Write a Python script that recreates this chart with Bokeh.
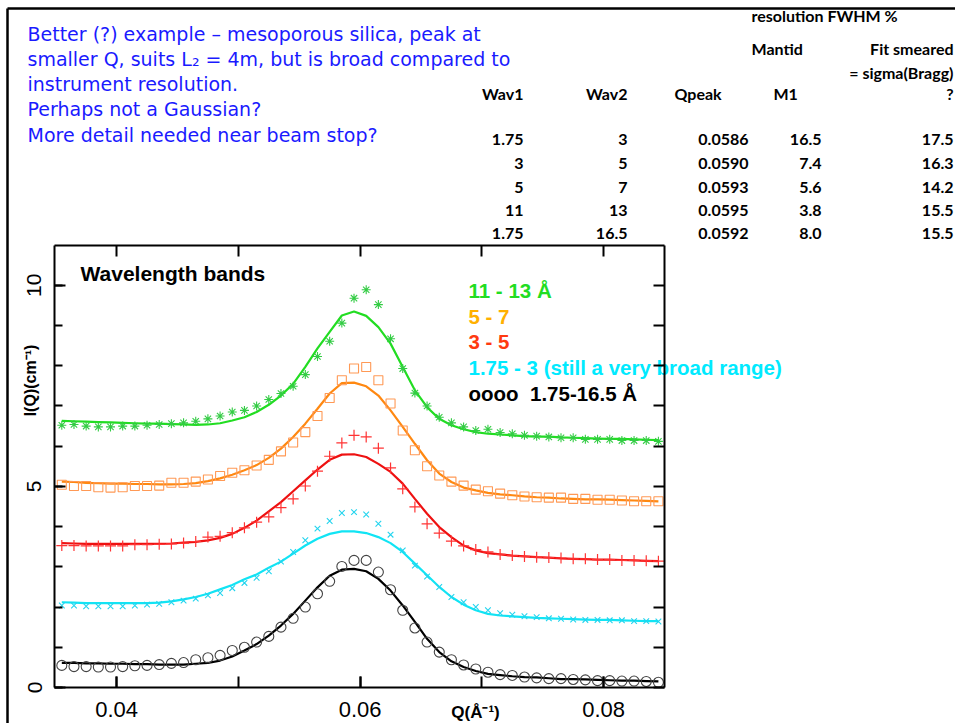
import math
from bokeh.plotting import figure
from bokeh.layouts import column, row
from bokeh.models import (Range1d, LinearAxis, FixedTicker, ColumnDataSource,
                          CustomJSTickFormatter)
from bokeh.embed import file_html
from bokeh.resources import INLINE
from bokeh.core.properties import value

# ---- scattering vector grid (1/Angstrom) ----
q = [0.0355, 0.0365, 0.0375, 0.0385, 0.0395, 0.0405, 0.0415, 0.0425, 0.0435, 0.0445,
     0.0455, 0.0465, 0.0475, 0.0485, 0.0495, 0.0505, 0.0515, 0.0525, 0.0535, 0.0545,
     0.0555, 0.0565, 0.0575, 0.0585, 0.0595, 0.0605, 0.0615, 0.0625, 0.0635, 0.0645,
     0.0655, 0.0665, 0.0675, 0.0685, 0.0695, 0.0705, 0.0715, 0.0725, 0.0735, 0.0745,
     0.0755, 0.0765, 0.0775, 0.0785, 0.0795, 0.0805, 0.0815, 0.0825, 0.0835, 0.0845]

# ---- measured I(Q) for each wavelength band (cm^-1) ----
i_full = [0.55, 0.52, 0.52, 0.51, 0.51, 0.52, 0.54, 0.55, 0.57, 0.60,
          0.62, 0.69, 0.74, 0.80, 0.92, 1.00, 1.13, 1.27, 1.50, 1.72,
          2.00, 2.33, 2.64, 3.01, 3.16, 3.16, 2.87, 2.43, 1.92, 1.48,
          1.13, 0.88, 0.69, 0.56, 0.46, 0.38, 0.32, 0.30, 0.26, 0.24,
          0.22, 0.22, 0.20, 0.19, 0.17, 0.17, 0.16, 0.16, 0.15, 0.13]
i_175_3 = [2.04, 2.04, 2.02, 2.02, 2.02, 2.02, 2.04, 2.06, 2.08, 2.12,
           2.16, 2.21, 2.29, 2.35, 2.47, 2.60, 2.73, 2.89, 3.13, 3.37,
           3.66, 3.95, 4.14, 4.34, 4.36, 4.30, 4.07, 3.80, 3.41, 3.03,
           2.76, 2.50, 2.25, 2.12, 2.00, 1.92, 1.85, 1.81, 1.77, 1.75,
           1.72, 1.71, 1.69, 1.68, 1.68, 1.67, 1.67, 1.65, 1.65, 1.64]
i_3_5 = [3.53, 3.53, 3.52, 3.52, 3.52, 3.52, 3.55, 3.55, 3.56, 3.57,
         3.59, 3.63, 3.74, 3.76, 3.85, 3.97, 4.11, 4.24, 4.47, 4.69,
         5.01, 5.38, 5.75, 6.08, 6.27, 6.23, 5.95, 5.46, 4.94, 4.49,
         4.07, 3.84, 3.64, 3.52, 3.43, 3.37, 3.31, 3.28, 3.26, 3.24,
         3.23, 3.22, 3.20, 3.20, 3.18, 3.18, 3.16, 3.16, 3.15, 3.14]
i_5_7 = [5.04, 5.01, 5.01, 4.98, 4.97, 4.98, 5.01, 5.01, 5.02, 5.09,
         5.09, 5.12, 5.17, 5.26, 5.34, 5.40, 5.52, 5.66, 5.87, 6.09,
         6.35, 6.75, 7.20, 7.64, 7.93, 7.97, 7.64, 7.06, 6.39, 5.90,
         5.50, 5.27, 5.12, 5.02, 4.92, 4.88, 4.82, 4.78, 4.75, 4.73,
         4.72, 4.72, 4.69, 4.69, 4.67, 4.67, 4.65, 4.63, 4.63, 4.63]
i_11_13 = [6.52, 6.54, 6.50, 6.48, 6.48, 6.50, 6.50, 6.52, 6.54, 6.56,
           6.58, 6.62, 6.68, 6.75, 6.85, 6.89, 7.00, 7.16, 7.31, 7.49,
           7.78, 8.23, 8.61, 9.06, 9.68, 9.89, 9.52, 8.67, 7.93, 7.32,
           7.00, 6.72, 6.58, 6.48, 6.39, 6.42, 6.34, 6.31, 6.27, 6.25,
           6.23, 6.21, 6.21, 6.17, 6.17, 6.17, 6.14, 6.14, 6.14, 6.12]

# ---- resolution-smeared model fits on the same grid ----
fit_full = [0.61, 0.61, 0.60, 0.60, 0.59, 0.59, 0.58, 0.58, 0.57, 0.57,
            0.57, 0.59, 0.61, 0.67, 0.77, 0.92, 1.08, 1.29, 1.54, 1.83,
            2.16, 2.49, 2.78, 2.93, 2.95, 2.89, 2.70, 2.41, 2.04, 1.63,
            1.21, 0.88, 0.65, 0.51, 0.41, 0.34, 0.31, 0.28, 0.26, 0.25,
            0.23, 0.21, 0.21, 0.20, 0.19, 0.18, 0.17, 0.17, 0.16, 0.15]
fit_175_3 = [2.12, 2.11, 2.10, 2.10, 2.10, 2.10, 2.10, 2.10, 2.11, 2.14,
             2.19, 2.25, 2.33, 2.44, 2.55, 2.69, 2.81, 2.98, 3.13, 3.33,
             3.53, 3.70, 3.82, 3.88, 3.88, 3.84, 3.74, 3.59, 3.37, 3.08,
             2.79, 2.50, 2.25, 2.06, 1.92, 1.83, 1.79, 1.77, 1.75, 1.73,
             1.72, 1.71, 1.70, 1.69, 1.68, 1.68, 1.67, 1.66, 1.65, 1.65]
fit_3_5 = [3.59, 3.58, 3.57, 3.57, 3.57, 3.57, 3.57, 3.57, 3.57, 3.58,
           3.60, 3.62, 3.66, 3.72, 3.82, 3.97, 4.15, 4.38, 4.61, 4.88,
           5.15, 5.42, 5.66, 5.79, 5.80, 5.73, 5.56, 5.36, 5.07, 4.69,
           4.32, 3.99, 3.74, 3.53, 3.41, 3.34, 3.31, 3.28, 3.26, 3.24,
           3.23, 3.21, 3.20, 3.19, 3.18, 3.18, 3.17, 3.16, 3.15, 3.14]
fit_5_7 = [5.12, 5.11, 5.09, 5.08, 5.07, 5.07, 5.06, 5.06, 5.05, 5.05,
           5.06, 5.08, 5.13, 5.20, 5.29, 5.40, 5.53, 5.71, 5.94, 6.23,
           6.56, 6.93, 7.31, 7.57, 7.58, 7.49, 7.26, 6.89, 6.48, 6.06,
           5.65, 5.32, 5.11, 4.97, 4.90, 4.84, 4.80, 4.78, 4.75, 4.73,
           4.72, 4.70, 4.69, 4.68, 4.68, 4.67, 4.66, 4.65, 4.64, 4.63]
fit_11_13 = [6.63, 6.62, 6.61, 6.60, 6.59, 6.58, 6.57, 6.56, 6.56, 6.55,
             6.54, 6.53, 6.54, 6.57, 6.64, 6.72, 6.85, 7.03, 7.26, 7.55,
             7.97, 8.43, 8.84, 9.25, 9.35, 9.24, 8.96, 8.55, 7.97, 7.39,
             6.97, 6.68, 6.52, 6.42, 6.35, 6.31, 6.29, 6.27, 6.25, 6.24,
             6.24, 6.22, 6.21, 6.20, 6.19, 6.18, 6.18, 6.17, 6.16, 6.15]

# ---- band key text ----
band_labels = ["11 - 13 \u00c5", "5 - 7", "3 - 5",
               "1.75 - 3 (still a very broad range)",
               "oooo \u00a01.75-16.5 \u00c5"]
band_colors = ["#22dd22", "#ffb000", "#ff3a10", "#00eaff", "black"]

# ---- table of peak positions and resolution widths ----
wav1 = [1.75, 3, 5, 11, 1.75]
wav2 = [3, 5, 7, 13, 16.5]
qpeak = [0.0586, 0.0590, 0.0593, 0.0595, 0.0592]
m1 = [16.5, 7.4, 5.6, 3.8, 8.0]
fit_smeared = [17.5, 16.3, 14.2, 15.5, 15.5]

notes = ["Better (?) example \u2013 mesoporous silica, peak at",
         "smaller Q, suits L\u2082 = 4m, but is broad compared to",
         "instrument resolution.",
         "Perhaps not a Gaussian?",
         "More detail needed near beam stop?"]

W, H = 955, 723
FL, FR, FT, FB = 54, 664, 245, 687   # plot frame edges in page pixels
ARIAL = "Liberation Sans"
CAL = "Lato"

# =====================================================================
# Page layer: slide text, table, key and axis titles (page pixel coords)
# =====================================================================
page = figure(width=W, height=H, output_backend="svg", toolbar_location=None,
              x_range=Range1d(0, W), y_range=Range1d(H, 0),
              min_border=0, x_axis_location=None, y_axis_location=None)
page.grid.visible = False
page.outline_line_color = None
page.background_fill_color = "white"
page.border_fill_color = "white"

# slide rules along the top and left edge
page.segment(x0=[7, 7], y0=[8, 8], x1=[W, 7], y1=[8, H],
             line_color="black", line_width=2.5)

# blue notes
page.text(x=[27] * len(notes), y=[33 + 25.3 * k for k in range(len(notes))], text=notes,
          text_font=value("DejaVu Sans"), text_font_size="19px", text_color="#1a1aff",
          text_baseline="middle", text_align="left")

hdr = dict(text_font=value(CAL), text_font_style="bold", text_font_size="16px",
           text_color="black", text_baseline="middle")
page.text(x=[751, 751, 773, 674], y=[15, 48, 93, 93],
          text=["resolution FWHM %", "Mantid", "M1", "Qpeak"], text_align="left", **hdr)
page.text(x=[953, 953, 523, 627, 953], y=[48, 72, 93, 93, 93],
          text=["Fit smeared", "= sigma(Bragg)", "Wav1", "Wav2", "?"],
          text_align="right", **hdr)

# table body, right aligned per column
col_right = [523, 627, 748, 821, 953]
row_y = [139, 163, 187, 210, 233]
cols = [[f"{v:g}" for v in wav1], [f"{v:g}" for v in wav2],
        [f"{v:.4f}" for v in qpeak], [f"{v:.1f}" for v in m1],
        [f"{v:.1f}" for v in fit_smeared]]
tx, ty, tt = [], [], []
for c, texts in enumerate(cols):
    for r, t in enumerate(texts):
        tx.append(col_right[c])
        ty.append(row_y[r])
        tt.append(t)
page.text(x="x", y="y", text="text", source=ColumnDataSource(dict(x=tx, y=ty, text=tt)),
          text_align="right", **hdr)

# key inside the plot area
key = dict(text_font=value(ARIAL), text_font_style="bold",
           text_baseline="middle", text_align="left")
page.text(x=[80], y=[273], text=["Wavelength bands"], text_color="black",
          text_font_size="21px", **key)
page.text(x=[468] * len(band_labels), y=[290 + 25.7 * k for k in range(len(band_labels))],
          text=band_labels, text_color=band_colors, text_font_size="20.5px", **key)

# axis titles
page.text(x=[475], y=[712], text=["Q(\u00c5\u207b\u00b9)"], text_font=value(ARIAL),
          text_font_style="bold", text_font_size="17px", text_baseline="middle",
          text_align="center", text_color="black")
page.text(x=[30], y=[380], text=["I(Q)(cm\u207b\u00b9)"], angle=math.pi / 2,
          text_font=value(ARIAL), text_font_style="bold", text_font_size="16px",
          text_baseline="middle", text_align="center", text_color="black")

# =====================================================================
# Plot layer: data, fits and the boxed axes
# =====================================================================
p = figure(width=W, height=H, output_backend="svg", toolbar_location=None,
           x_range=Range1d(0.0349, 0.0850), y_range=Range1d(0, 10.99),
           min_border_left=FL, min_border_right=W - FR,
           min_border_top=FT, min_border_bottom=H - FB,
           x_axis_location=None, y_axis_location=None)
p.grid.visible = False
p.outline_line_color = None
p.background_fill_alpha = 0
p.border_fill_alpha = 0

blank = CustomJSTickFormatter(code="return ''")


def style_axis(ax):
    ax.axis_line_width = 2
    ax.axis_line_color = "black"
    ax.major_tick_line_width = 2
    ax.minor_tick_line_width = 2
    ax.major_tick_out = 0
    ax.minor_tick_out = 0
    ax.major_tick_in = 11
    ax.minor_tick_in = 11
    ax.major_label_text_font = ARIAL
    ax.major_label_text_color = "black"


xb = LinearAxis(ticker=FixedTicker(ticks=[0.04, 0.06, 0.08],
                                   minor_ticks=[0.04, 0.05, 0.06, 0.07, 0.08]))
style_axis(xb)
xb.major_label_text_font_size = "22px"
xb.major_label_standoff = 14
p.add_layout(xb, "below")

xt = LinearAxis(ticker=FixedTicker(ticks=[0.04, 0.05, 0.06, 0.07, 0.08]), formatter=blank)
style_axis(xt)
xt.major_label_standoff = 0
p.add_layout(xt, "above")

yl = LinearAxis(ticker=FixedTicker(ticks=[0, 5, 10], minor_ticks=list(range(0, 12))))
style_axis(yl)
yl.minor_tick_in = 8
yl.major_label_text_font_size = "21px"
yl.major_label_orientation = "vertical"
yl.major_label_standoff = 13
p.add_layout(yl, "left")

yr = LinearAxis(ticker=FixedTicker(ticks=list(range(0, 12))), formatter=blank)
style_axis(yr)
yr.major_label_standoff = 0
p.add_layout(yr, "right")

# fitted curves
p.line(q, fit_11_13, line_color="#22dd22", line_width=2.2)
p.line(q, fit_5_7, line_color="#ff8811", line_width=2.2)
p.line(q, fit_3_5, line_color="#ee1111", line_width=2.2)
p.line(q, fit_175_3, line_color="#11e4f4", line_width=2.2)
p.line(q, fit_full, line_color="black", line_width=2.2)

# measured points
p.scatter(q, i_11_13, marker="asterisk", size=9, line_color="#33cc44", line_width=1.1)
p.scatter(q, i_5_7, marker="square", size=9, line_color="#ff9955", fill_color=None, line_width=1.1)
p.scatter(q, i_3_5, marker="cross", size=11, line_color="#ff3333", line_width=1.2)
p.scatter(q, i_175_3, marker="x", size=8, line_color="#22d4ee", line_width=1.1)
p.scatter(q, i_full, marker="circle", size=10, line_color="#444444", fill_color=None, line_width=1.1)

# the plot layer sits on top of the page layer
top_layer = row(p, width=W, height=H)
top_layer.margin = (-H, 0, 0, 0)
base_layer = row(page, width=W, height=H)
layout = column(base_layer, top_layer, width=W, height=H)
open("out.html", "w").write(file_html(layout, INLINE))
